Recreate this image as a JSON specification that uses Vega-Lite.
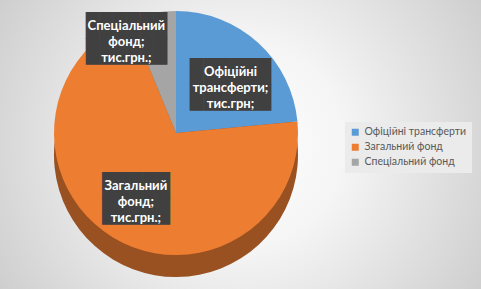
{
  "$schema": "https://vega.github.io/schema/vega-lite/v6.json",
  "width": 481,
  "height": 289,
  "autosize": {"type": "none"},
  "padding": 0,
  "background": "#c4c4c4",
  "data": {
    "values": [
      {"category": "Офіційні трансферти", "value": 23.5, "order": 1},
      {"category": "Загальний фонд", "value": 70.3, "order": 2},
      {"category": "Спеціальний фонд", "value": 6.2, "order": 3}
    ]
  },
  "layer": [
    {
      "data": {"values": [{}]},
      "mark": {
        "type": "rect",
        "fill": {
          "gradient": "radial",
          "x1": 0.5, "y1": 0.5, "r1": 0,
          "x2": 0.5, "y2": 0.5, "r2": 0.72,
          "stops": [
            {"offset": 0, "color": "#ffffff"},
            {"offset": 0.3, "color": "#f5f5f5"},
            {"offset": 1, "color": "#c0c0c0"}
          ]
        }
      },
      "encoding": {}
    },
    {
      "mark": {"type": "arc", "outerRadius": 122, "xOffset": -64.5, "yOffset": 10.5, "fill": "#9a5122"},
      "encoding": {
        "theta": {"field": "value", "type": "quantitative", "stack": true},
        "order": {"field": "order", "type": "quantitative"}
      }
    },
    {
      "mark": {"type": "arc", "outerRadius": 122, "xOffset": -64.5, "yOffset": -11.5},
      "encoding": {
        "theta": {"field": "value", "type": "quantitative", "stack": true},
        "order": {"field": "order", "type": "quantitative"},
        "color": {
          "field": "category",
          "type": "nominal",
          "scale": {
            "domain": ["Офіційні трансферти", "Загальний фонд", "Спеціальний фонд"],
            "range": ["#5b9bd5", "#ed7d31", "#a5a5a5"]
          },
          "legend": {
            "orient": "none",
            "legendX": 345,
            "legendY": 122,
            "title": null,
            "symbolType": "square",
            "symbolSize": 49,
            "symbolStrokeWidth": 0,
            "labelFont": "Lato",
            "labelFontSize": 10.5,
            "labelColor": "#595959",
            "fillColor": "#ebebeb",
            "padding": 5,
            "rowPadding": 4
          }
        }
      }
    },
    {
      "mark": {"type": "text", "font": "DejaVu Sans Mono", "fontSize": 22.5, "lineHeight": 26, "fill": "#404040", "radius": 81, "dx": -64.5, "dy": -12.5},
      "encoding": {
        "theta": {"field": "value", "type": "quantitative", "stack": true},
        "order": {"field": "order", "type": "quantitative"},
        "text": {"condition": {"test": "datum.category === 'Офіційні трансферти'", "value": ["██████", "██████"]}, "value": ""}
      }
    },
    {
      "mark": {"type": "text", "font": "DejaVu Sans Mono", "fontSize": 22.5, "lineHeight": 26, "fill": "#404040", "radius": 66, "dx": -70.5, "dy": -15},
      "encoding": {
        "theta": {"field": "value", "type": "quantitative", "stack": true},
        "order": {"field": "order", "type": "quantitative"},
        "text": {"condition": {"test": "datum.category === 'Загальний фонд'", "value": ["█████", "█████"]}, "value": ""}
      }
    },
    {
      "mark": {"type": "text", "font": "DejaVu Sans Mono", "fontSize": 22.5, "lineHeight": 26, "fill": "#404040", "radius": 117, "dx": -91.5, "dy": -3.5},
      "encoding": {
        "theta": {"field": "value", "type": "quantitative", "stack": true},
        "order": {"field": "order", "type": "quantitative"},
        "text": {"condition": {"test": "datum.category === 'Спеціальний фонд'", "value": ["██████", "██████"]}, "value": ""}
      }
    },
    {
      "mark": {"type": "text", "font": "Lato", "fontWeight": "bold", "fontSize": 13, "lineHeight": 16, "fill": "#ffffff", "radius": 81, "dx": -64.5, "dy": -12.5},
      "encoding": {
        "theta": {"field": "value", "type": "quantitative", "stack": true},
        "order": {"field": "order", "type": "quantitative"},
        "text": {"condition": {"test": "datum.category === 'Офіційні трансферти'", "value": ["Офіційні", "трансферти;", "тис.грн;"]}, "value": ""}
      }
    },
    {
      "mark": {"type": "text", "font": "Lato", "fontWeight": "bold", "fontSize": 13, "lineHeight": 16, "fill": "#ffffff", "radius": 66, "dx": -70.5, "dy": -15},
      "encoding": {
        "theta": {"field": "value", "type": "quantitative", "stack": true},
        "order": {"field": "order", "type": "quantitative"},
        "text": {"condition": {"test": "datum.category === 'Загальний фонд'", "value": ["Загальний", "фонд;", "тис.грн.;"]}, "value": ""}
      }
    },
    {
      "mark": {"type": "text", "font": "Lato", "fontWeight": "bold", "fontSize": 13, "lineHeight": 16, "fill": "#ffffff", "radius": 117, "dx": -91.5, "dy": -3.5},
      "encoding": {
        "theta": {"field": "value", "type": "quantitative", "stack": true},
        "order": {"field": "order", "type": "quantitative"},
        "text": {"condition": {"test": "datum.category === 'Спеціальний фонд'", "value": ["Спеціальний", "фонд;", "тис.грн.;"]}, "value": ""}
      }
    }
  ],
  "config": {"view": {"stroke": null}}
}
